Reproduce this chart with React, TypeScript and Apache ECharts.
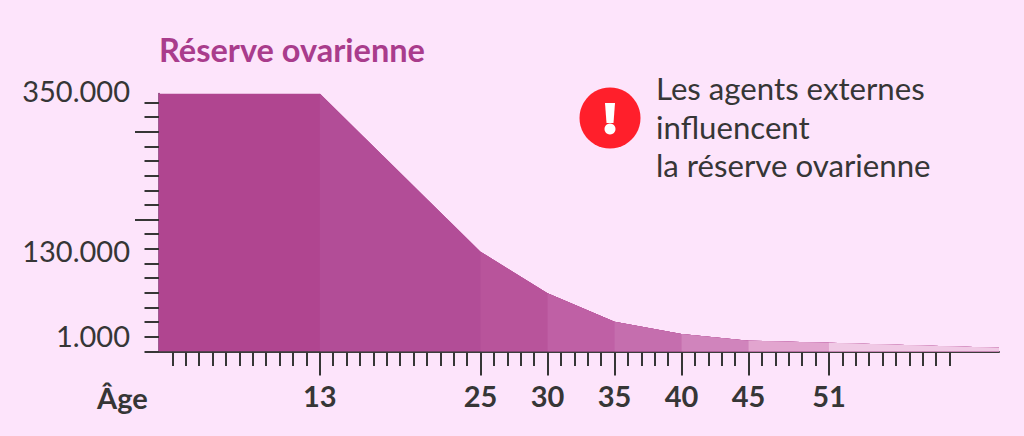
import React, { useEffect, useRef } from "react";
import * as echarts from "echarts";

const ages = [1, 13, 25, 30, 35, 40, 45, 51, 63.69];
const reserve = [350000, 350000, 135400, 79000, 40400, 23700, 14650, 11900, 5200];
const segmentColors = ["#B04590", "#B24D97", "#B8549B", "#BF60A5", "#C56EAE", "#D084BC", "#E2A5CF", "#F0C9E5"];
const majorAges = [13, 25, 30, 35, 40, 45, 51];
const minorAges = Array.from({ length: 59 }, (_, i) => i + 2).filter((a) => !majorAges.includes(a));
const yLabelValues = [1000, 130000, 350000];
const yLabels: Record<number, string> = { 1000: "{low|1.000}", 130000: "{mid|130.000}", 350000: "{top|350.000}" };
const yTickStep = 19886;
const yShortSteps = [0, 1, 2, 3, 4, 5, 6, 7, 8, 10, 11, 12, 13, 14, 16, 17];
const yLongSteps = [9, 15];
const titleText = "Réserve ovarienne";
const noteLines = ["Les agents externes", "influencent", "la réserve ovarienne"];
const xName = "Âge";

const FONT = "Lato";
const INK = "#363636";
const BG = "#FDE4FB";

export default function App() {
  const ref = useRef<HTMLDivElement>(null);
  useEffect(() => {
    document.body.style.margin = "0";
    const chart = echarts.init(ref.current!, undefined, { renderer: "svg" });
    const baseAxis = { min: 1, max: 63.69, type: "value" as const, splitLine: { show: false } };
    const baseY = { min: 0, max: 350000, type: "value" as const, splitLine: { show: false } };
    chart.setOption({
      animation: false,
      backgroundColor: BG,
      title: {
        text: titleText,
        left: 154,
        top: 28,
        textStyle: { fontFamily: FONT, fontSize: 32.5, fontWeight: "bold", color: "#A93C8C" },
      },
      grid: { left: 159, top: 93.5, width: 840, height: 258 },
      xAxis: [
        {
          ...baseAxis,
          axisLine: { show: true, onZero: false, lineStyle: { color: "#3c3c3c", width: 2 } },
          axisTick: { show: true, length: 14.5, customValues: minorAges, lineStyle: { color: INK, width: 2 } },
          axisLabel: { show: false },
        },
        {
          ...baseAxis,
          position: "bottom",
          axisLine: { show: false, onZero: false },
          axisTick: { show: true, length: 24, customValues: majorAges, lineStyle: { color: INK, width: 2 } },
          axisLabel: {
            show: true,
            customValues: majorAges,
            margin: 29.5,
            fontFamily: FONT,
            fontSize: 29,
            fontWeight: "bold",
            color: INK,
          },
        },
      ],
      yAxis: [
        {
          ...baseY,
          axisLine: { show: true, onZero: false, lineStyle: { color: "#7C2C6C", width: 1.5 } },
          axisTick: { show: true, length: 14.5, customValues: yShortSteps.map((s) => s * yTickStep), lineStyle: { color: INK, width: 2 } },
          axisLabel: {
            show: true,
            customValues: yLabelValues,
            margin: 29,
            fontFamily: FONT,
            fontSize: 29,
            color: INK,
            formatter: (v: number) => yLabels[v] ?? "",
            rich: {
              low: { fontFamily: FONT, fontSize: 29, color: INK, padding: [0, 0, 31, 0] },
              mid: { fontFamily: FONT, fontSize: 29, color: INK, padding: [0, 0, 11, 0] },
              top: { fontFamily: FONT, fontSize: 29, color: INK, padding: [0, 0, 6, 0] },
            },
          },
        },
        {
          ...baseY,
          position: "left",
          axisLine: { show: false, onZero: false },
          axisTick: { show: true, length: 24, customValues: yLongSteps.map((s) => s * yTickStep), lineStyle: { color: INK, width: 2 } },
          axisLabel: { show: false },
        },
      ],
      // Each band runs on to the end of the curve and the next one is painted over it, so no seams show.
      series: segmentColors.map((color, i) => ({
        type: "line",
        xAxisIndex: 0,
        yAxisIndex: 0,
        symbol: "none",
        silent: true,
        lineStyle: { width: 0 },
        areaStyle: { color, opacity: 1 },
        data: ages.slice(i).map((age, k) => [age, reserve[i + k]]),
      })),
      graphic: [
        {
          type: "text",
          x: 97,
          y: 397,
          style: { text: xName, fontFamily: FONT, fontSize: 29, fontWeight: "bold", fill: INK, verticalAlign: "middle" },
        },
        { type: "circle", shape: { cx: 610, cy: 118, r: 30.5 }, style: { fill: "#FF1F2B" } },
        {
          type: "polygon",
          shape: { points: [[605, 103], [615, 103], [613.5, 123], [606.5, 123]] },
          style: { fill: "#FFFFFF" },
        },
        { type: "circle", shape: { cx: 610, cy: 129, r: 5.5 }, style: { fill: "#FFFFFF" } },
        ...noteLines.map((line, i) => ({
          type: "text",
          x: 656,
          y: 88 + i * 38.5,
          style: { text: line, fontFamily: FONT, fontSize: 31.2, fill: INK, verticalAlign: "middle" },
        })),
      ],
    });
    return () => chart.dispose();
  }, []);
  return <div ref={ref} style={{ position: "absolute", left: 0, top: 0, width: 1024, height: 436 }} />;
}
